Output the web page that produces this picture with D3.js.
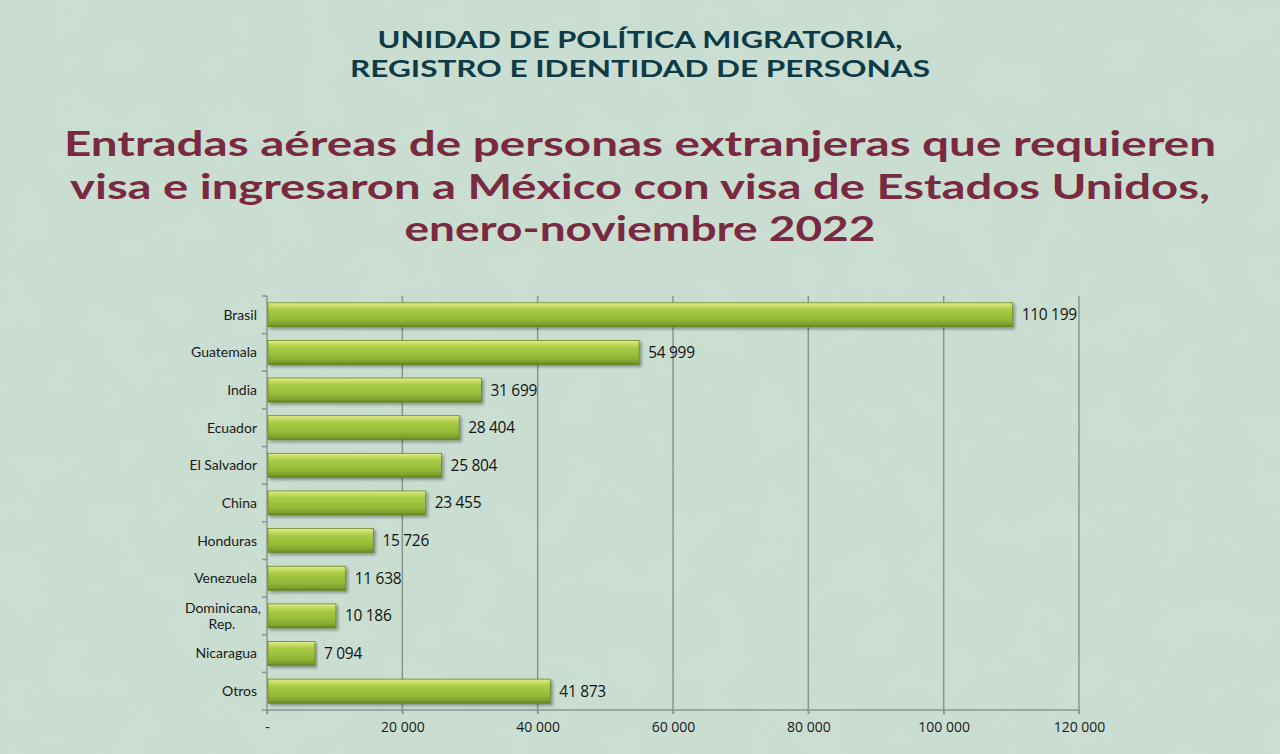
<!DOCTYPE html>
<html>
<head>
<meta charset="utf-8">
<script src="https://cdn.jsdelivr.net/npm/d3@7"></script>
<style>
  html, body { margin: 0; padding: 0; background: #c8dccf; }
  svg { display: block; }
</style>
</head>
<body>
<svg id="chart" width="1280" height="754"></svg>
<script>
const categories = ["Brasil", "Guatemala", "India", "Ecuador", "El Salvador", "China", "Honduras", "Venezuela", "Dominicana, Rep.", "Nicaragua", "Otros"];
const values = [110199, 54999, 31699, 28404, 25804, 23455, 15726, 11638, 10186, 7094, 41873];
const xTicks = [0, 20000, 40000, 60000, 80000, 100000, 120000];
const headerLines = ["UNIDAD DE POLÍTICA MIGRATORIA,", "REGISTRO E IDENTIDAD DE PERSONAS"];
const titleLines = ["Entradas aéreas de personas extranjeras que requieren", "visa e ingresaron a México con visa de Estados Unidos,", "enero-noviembre 2022"];

const W = 1280, H = 754;
const svg = d3.select("#chart");
const defs = svg.append("defs");

// background texture
const tf = defs.append("filter").attr("id", "tex").attr("x", 0).attr("y", 0).attr("width", "100%").attr("height", "100%");
tf.append("feTurbulence").attr("type", "fractalNoise").attr("baseFrequency", 0.02).attr("numOctaves", 4).attr("seed", 11).attr("result", "n");
tf.append("feColorMatrix").attr("in", "n").attr("type", "matrix")
  .attr("values", "0 0 0 0 0.70  0 0 0 0 0.80  0 0 0 0 0.74  0 0 0 1.2 -0.55");
svg.append("rect").attr("width", W).attr("height", H).attr("fill", "#c9ddd1");
svg.append("rect").attr("width", W).attr("height", H).attr("filter", "url(#tex)").attr("opacity", 0.35);

// bar gradient
const g = defs.append("linearGradient").attr("id", "barGrad").attr("x1", 0).attr("y1", 0).attr("x2", 0).attr("y2", 1);
[[0, "#e3ee92"], [0.14, "#c6dc63"], [0.3, "#a8cb45"], [0.7, "#92b936"], [0.9, "#7c9f2c"], [1, "#5e7c1f"]]
  .forEach(([o, c]) => g.append("stop").attr("offset", o).attr("stop-color", c));
const sh = defs.append("filter").attr("id", "shadow").attr("x", "-5%").attr("y", "-30%").attr("width", "110%").attr("height", "180%");
sh.append("feDropShadow").attr("dx", 2).attr("dy", 2).attr("stdDeviation", 1.5).attr("flood-color", "#000").attr("flood-opacity", 0.35);

// header
svg.append("g").selectAll("text").data(headerLines).join("text")
  .attr("x", 640).attr("y", (d, i) => 48 + i * 29)
  .attr("text-anchor", "middle")
  .attr("font-family", "Lato, sans-serif").attr("font-weight", 700)
  .attr("font-size", 23.5).attr("fill", "#0e3b48")
  .attr("textLength", (d, i) => [525, 580][i]).attr("lengthAdjust", "spacingAndGlyphs")
  .text(d => d);

// title
svg.append("g").selectAll("text").data(titleLines).join("text")
  .attr("x", 640).attr("y", (d, i) => 156 + i * 42.5)
  .attr("text-anchor", "middle")
  .attr("font-family", "Lato, sans-serif").attr("font-weight", 700)
  .attr("font-size", 35).attr("fill", "#7a2a40")
  .attr("textLength", (d, i) => [1152, 1140, 471][i]).attr("lengthAdjust", "spacingAndGlyphs")
  .text(d => d);

// chart
const x0 = 267, x1 = 1079, yTop = 296, yBot = 710;
const x = d3.scaleLinear().domain([0, 120000]).range([x0, x1]);
const y = d3.scaleBand().domain(categories).range([yTop, yBot]).paddingInner(0.36).paddingOuter(0.18);
const bandStep = (yBot - yTop) / categories.length;

const fmt = d3.formatLocale({ decimal: ".", thousands: " ", grouping: [3], currency: ["", ""] }).format(",d");
const gridColor = "#8b948e";

// gridlines
svg.append("g").selectAll("line").data(xTicks.slice(1)).join("line")
  .attr("x1", d => x(d)).attr("x2", d => x(d))
  .attr("y1", yTop).attr("y2", yBot + 4)
  .attr("stroke", gridColor).attr("stroke-width", 1.5);

// x axis
const xAxis = d3.axisBottom(x).tickValues(xTicks).tickSize(4).tickPadding(8)
  .tickFormat(d => d === 0 ? "-" : fmt(d));
const xa = svg.append("g").attr("transform", `translate(0,${yBot})`).call(xAxis);
xa.select(".domain").attr("stroke", gridColor).attr("stroke-width", 1.5).attr("d", `M${x0},0H${x1}`);
xa.selectAll(".tick line").attr("stroke", gridColor).attr("stroke-width", 1.5);
xa.selectAll(".tick text").attr("font-family", "'Open Sans', sans-serif").attr("font-size", 14).attr("fill", "#1a1a1a");

// y axis line and ticks between categories
svg.append("line").attr("x1", x0).attr("x2", x0).attr("y1", yTop).attr("y2", yBot + 4)
  .attr("stroke", gridColor).attr("stroke-width", 1.5);
svg.append("g").selectAll("line").data(d3.range(categories.length + 1)).join("line")
  .attr("x1", x0 - 5).attr("x2", x0)
  .attr("y1", i => yTop + i * bandStep).attr("y2", i => yTop + i * bandStep)
  .attr("stroke", gridColor).attr("stroke-width", 1.5);

// bars
svg.append("g").selectAll("rect").data(categories).join("rect")
  .attr("x", x0 + 1).attr("y", d => y(d))
  .attr("width", (d, i) => x(values[i]) - x0 - 1).attr("height", y.bandwidth())
  .attr("fill", "url(#barGrad)").attr("stroke", "#6a8a24").attr("stroke-width", 0.8)
  .attr("filter", "url(#shadow)");

// value labels
svg.append("g").selectAll("text").data(categories).join("text")
  .attr("x", (d, i) => x(values[i]) + 9).attr("y", d => y(d) + y.bandwidth() / 2)
  .attr("dy", "0.35em")
  .attr("font-family", "'Open Sans', sans-serif").attr("font-size", 15.5).attr("fill", "#141414")
  .attr("letter-spacing", -0.3)
  .text((d, i) => fmt(values[i]));

// category labels (multi-line labels split at ", ")
const labelLines = [];
categories.forEach(d => {
  const cy = y(d) + y.bandwidth() / 2;
  if (d.indexOf(", ") > 0) {
    const parts = d.split(", ");
    labelLines.push({ t: parts[0] + ",", cy: cy - 8.2, anchor: "end", x: x0 - 6 });
    labelLines.push({ t: parts[1], cy: cy + 8.2, anchor: "middle", x: x0 - 45 });
  } else {
    labelLines.push({ t: d, cy: cy, anchor: "end", x: x0 - 10 });
  }
});
svg.append("g").selectAll("text").data(labelLines).join("text")
  .attr("x", d => d.x).attr("y", d => d.cy).attr("dy", "0.35em")
  .attr("text-anchor", d => d.anchor)
  .attr("font-family", "Lato, sans-serif").attr("font-size", 14).attr("fill", "#1a1a1a")
  .text(d => d.t);
</script>
</body>
</html>
